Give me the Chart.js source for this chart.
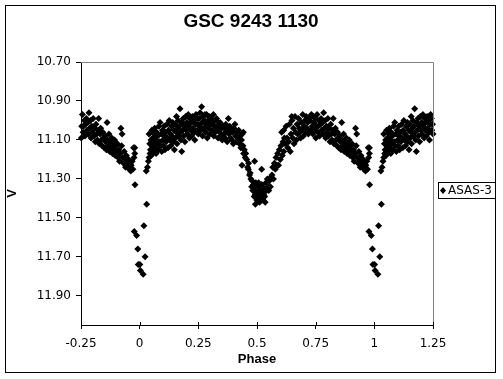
<!DOCTYPE html>
<html><head><meta charset="utf-8">
<script src="https://cdn.jsdelivr.net/npm/chart.js@4"></script>
<style>html,body{margin:0;padding:0;background:#fff}canvas{display:block}</style>
</head><body><canvas id="c" width="503" height="379"></canvas>
<script>
const chartTitle = 'GSC 9243 1130';
const seriesName = 'ASAS-3';
const xTitle = 'Phase';
const yTitle = 'V';
const xTicks = [-0.25, 0, 0.25, 0.5, 0.75, 1, 1.25];
const xTickLabels = ['-0.25', '0', '0.25', '0.5', '0.75', '1', '1.25'];
const yTicks = [10.7, 10.9, 11.1, 11.3, 11.5, 11.7, 11.9];
const yTickLabels = ['10.70', '10.90', '11.10', '11.30', '11.50', '11.70', '11.90'];

// observations: [phase, V magnitude], phase in 0..1
const eclipsePrimary = [
  [0.977,11.57],[0.987,11.59],[0.992,11.66],[0.994,11.74],[0.980,11.33],[0.979,11.17],[0.979,11.14],
  [0.001,11.74],[0.003,11.77],[0.015,11.79],[0.018,11.54],[0.023,11.70],[0.030,11.43],[0.028,11.26],
  [0.033,11.24],[0.037,11.21],[0.040,11.19],[0.044,11.17],[0.043,11.12],[0.040,11.07]
];
const riseAfterPrimary = [
  [0.046,11.15],[0.048,11.10],[0.050,11.18],[0.052,11.05],[0.054,11.13],[0.056,11.09],[0.058,11.16],
  [0.060,11.11],[0.062,11.07],[0.064,11.04],[0.066,11.14],[0.068,11.10],[0.070,11.17],[0.072,11.06],
  [0.074,11.12],[0.077,11.08],[0.080,11.15],[0.082,11.03],[0.085,11.11],[0.087,11.01],[0.089,11.13],
  [0.092,11.07],[0.094,11.16],[0.097,11.05],[0.099,11.10],
  [0.101,11.13],[0.104,11.03],[0.106,11.08],[0.108,11.15],[0.111,11.06],[0.113,11.11],[0.116,11.02],
  [0.118,11.09],[0.121,11.14],[0.123,11.05],[0.126,11.00],[0.128,11.10],[0.131,11.07],[0.133,11.13],
  [0.136,11.03],[0.138,11.08],[0.141,11.01],[0.143,11.11],[0.146,11.05],[0.148,11.15],[0.151,11.02],
  [0.153,11.09],[0.156,11.06],[0.157,10.98],[0.159,11.12]
];
const firstMaximum = [
  [0.162,11.04],[0.164,11.00],[0.167,11.08],[0.169,11.03],[0.172,10.94],[0.174,11.06],[0.176,11.10],
  [0.179,11.16],[0.181,11.01],[0.183,11.05],[0.186,10.99],[0.188,11.08],[0.191,11.03],[0.193,11.11],
  [0.196,10.98],[0.198,11.05],[0.201,11.01],[0.203,11.07],[0.207,10.97],[0.209,11.03],[0.212,11.09],
  [0.214,10.99],[0.217,11.05],[0.219,11.01],[0.222,11.08],[0.225,10.98],[0.227,11.04],[0.230,11.00],
  [0.233,11.06],[0.235,11.10],[0.238,11.02],[0.240,10.97],[0.243,10.99],[0.245,11.05],[0.248,11.02],
  [0.250,11.07],[0.253,10.99],[0.256,11.03],[0.258,10.96],[0.261,11.05],[0.264,10.93],[0.266,11.01],
  [0.268,11.08],[0.271,10.98],[0.274,11.04],[0.276,11.00],[0.278,10.97],[0.281,11.06],[0.283,11.02],
  [0.285,10.97],[0.288,11.09],[0.291,11.00],[0.293,11.04],[0.296,10.98],[0.299,11.07],[0.302,11.02],
  [0.305,10.99],[0.308,11.05],[0.311,11.01],[0.314,10.97],[0.316,11.08],[0.319,11.03],[0.322,11.06],
  [0.325,11.00],[0.328,10.99],[0.331,11.04],[0.334,11.09],[0.337,11.02],[0.340,11.06],[0.343,11.01],
  [0.346,11.08],[0.349,11.04],[0.352,11.10],[0.355,11.03],[0.358,11.07],
  [0.361,11.04],[0.364,11.09],[0.367,11.02],[0.370,11.06],[0.373,11.11],[0.376,11.04],[0.378,10.99],
  [0.381,11.07],[0.384,11.03],[0.387,11.09],[0.390,11.05],[0.393,11.10],[0.396,11.06],[0.399,11.12],
  [0.402,11.04],[0.406,11.02],[0.409,11.08],[0.412,11.11],[0.415,11.06],[0.418,11.09],[0.422,11.05],
  [0.425,11.12],[0.428,11.08],[0.431,11.14],[0.434,11.10],[0.437,11.07],[0.440,11.13],[0.442,11.06]
];
const eclipseSecondary = [
  [0.436,11.23],[0.443,11.17],[0.446,11.15],[0.450,11.19],[0.452,11.17],[0.456,11.20],[0.460,11.24],
  [0.463,11.25],[0.464,11.22],[0.468,11.28],[0.471,11.27],
  [0.474,11.30],[0.477,11.34],[0.479,11.31],[0.482,11.36],[0.484,11.33],[0.486,11.34],[0.488,11.39],
  [0.490,11.21],[0.491,11.36],[0.493,11.38],[0.493,11.43],[0.495,11.32],[0.497,11.40],[0.500,11.41],
  [0.502,11.37],[0.504,11.34],[0.507,11.32],[0.509,11.38],[0.511,11.42],[0.514,11.36],[0.516,11.40],
  [0.518,11.33],[0.520,11.25],[0.521,11.33],[0.524,11.37],[0.526,11.41],[0.528,11.38],[0.531,11.35],
  [0.533,11.39],[0.535,11.42],[0.538,11.32],[0.541,11.36],[0.544,11.30],[0.547,11.34],[0.550,11.36],
  [0.553,11.31],[0.557,11.34],[0.560,11.29],
  [0.564,11.28],[0.567,11.24],[0.570,11.30],[0.574,11.22],[0.578,11.25],[0.581,11.19],[0.585,11.23],
  [0.588,11.17],[0.592,11.23],[0.595,11.15],[0.599,11.20],[0.602,11.13],[0.605,11.06],[0.608,11.18],
  [0.611,11.11],[0.614,11.16],[0.614,11.05],[0.617,11.09],[0.620,11.12],[0.624,11.03],[0.628,11.09],
  [0.631,11.14],[0.635,11.11],[0.638,11.02],[0.642,11.16],[0.645,11.07],[0.648,10.98],[0.649,11.00]
];
const secondMaximum = [
  [0.652,11.09],[0.655,11.04],[0.658,11.12],[0.662,10.98],[0.665,11.06],[0.668,11.10],[0.671,11.02],
  [0.674,11.07],[0.677,10.99],[0.680,11.04],[0.683,11.06],[0.686,11.09],[0.689,11.01],[0.692,11.05],
  [0.695,10.97],[0.698,11.08],[0.701,11.03],[0.704,11.00],[0.707,11.06],[0.710,10.98],[0.713,11.04],
  [0.716,11.01],[0.719,11.07],[0.722,10.99],[0.726,11.00],[0.729,11.05],[0.732,10.97],[0.735,11.03],
  [0.738,11.07],[0.740,10.98],[0.743,11.01],[0.746,11.05],[0.749,10.99],
  [0.751,11.09],[0.753,11.03],[0.756,10.97],[0.759,11.06],[0.761,11.03],[0.764,11.00],[0.767,11.08],
  [0.770,11.02],[0.773,10.99],[0.776,11.05],[0.779,11.01],[0.782,11.07],[0.784,10.96],[0.787,11.04],
  [0.790,11.00],[0.793,11.09],[0.796,11.03],[0.799,11.06],[0.802,10.99],[0.805,11.08],[0.808,11.04],
  [0.811,11.11],[0.814,11.02],[0.817,11.07],[0.820,11.10],[0.823,11.05],[0.825,10.99],[0.828,11.12],
  [0.831,11.07],[0.834,11.04],[0.837,11.10],[0.840,11.13],[0.843,11.06],[0.846,11.09]
];
const fallToPrimary = [
  [0.849,11.14],[0.852,11.08],[0.855,11.11],[0.858,11.15],[0.861,11.01],[0.863,11.10],[0.866,11.13],
  [0.869,11.07],[0.872,11.16],[0.875,11.11],[0.878,11.14],[0.881,11.09],[0.884,11.17],[0.887,11.12],
  [0.890,11.15],[0.893,11.10],[0.896,11.18],[0.899,11.13],[0.902,11.16],[0.905,11.12],[0.908,11.19],
  [0.911,11.15],[0.914,11.21],[0.917,11.17],[0.920,11.04],[0.923,11.13],[0.925,11.07],[0.928,11.19],
  [0.931,11.22],[0.934,11.16],[0.937,11.20],[0.940,11.24],[0.943,11.18],[0.946,11.22],[0.950,11.24],
  [0.953,11.20],[0.956,11.25],[0.959,11.22],[0.962,11.26],[0.964,11.23],[0.968,11.21],[0.971,11.25],
  [0.974,11.14],[0.976,11.19]
];

const observations = [].concat(eclipsePrimary, riseAfterPrimary, firstMaximum, eclipseSecondary, secondMaximum, fallToPrimary);
// phase-folded plot repeats the last and first quarter of the cycle
const points = [];
observations.forEach(([p, v]) => {
  points.push({x: p, y: v});
  if (p >= 0.75) points.push({x: p - 1, y: v});
  if (p <= 0.25) points.push({x: p + 1, y: v});
});

const tickFont = {family: '"DejaVu Sans", sans-serif', size: 12};

const decor = {
  id: 'decor',
  beforeDraw(chart) {
    const ctx = chart.ctx;
    ctx.save();
    ctx.fillStyle = '#fff';
    ctx.fillRect(0, 0, chart.width, chart.height);
    ctx.restore();
  },
  afterDraw(chart) {
    const ctx = chart.ctx;
    const a = chart.chartArea;
    const xs = chart.scales.x;
    ctx.save();
    // gray top / right plot border
    ctx.strokeStyle = '#808080';
    ctx.lineWidth = 1;
    ctx.beginPath();
    ctx.moveTo(Math.round(a.left), Math.round(a.top) + 0.5);
    ctx.lineTo(Math.round(a.right) + 0.5, Math.round(a.top) + 0.5);
    ctx.lineTo(Math.round(a.right) + 0.5, Math.round(a.bottom));
    ctx.stroke();
    // inner half of crossing x tick marks
    ctx.strokeStyle = '#000';
    ctx.beginPath();
    xTicks.forEach(v => {
      const px = Math.round(xs.getPixelForValue(v)) + 0.5;
      ctx.moveTo(px, a.bottom - 3);
      ctx.lineTo(px, a.bottom);
    });
    ctx.stroke();
    // outer frame
    ctx.strokeStyle = '#000';
    ctx.strokeRect(5.5, 5.5, 490, 367);
    // title
    ctx.fillStyle = '#000';
    ctx.font = 'bold 19px "Liberation Sans", Arial, sans-serif';
    ctx.textAlign = 'center';
    ctx.textBaseline = 'middle';
    ctx.fillText(chartTitle, 251, 22);
    // legend
    ctx.fillStyle = '#fff';
    ctx.fillRect(438.5, 182.5, 57, 16);
    ctx.strokeStyle = '#000';
    ctx.strokeRect(438.5, 182.5, 57, 16);
    ctx.fillStyle = '#000';
    ctx.beginPath();
    ctx.moveTo(443, 187); ctx.lineTo(446, 190.5); ctx.lineTo(443, 194); ctx.lineTo(440, 190.5);
    ctx.closePath(); ctx.fill();
    ctx.font = '12px "DejaVu Sans", sans-serif';
    ctx.textAlign = 'left';
    ctx.fillText(seriesName, 448, 191);
    ctx.restore();
  }
};

new Chart(document.getElementById('c'), {
  type: 'scatter',
  data: {
    datasets: [{
      label: seriesName,
      data: points,
      pointStyle: 'rectRot',
      pointRadius: 3.5,
      pointHoverRadius: 3.5,
      backgroundColor: '#000',
      borderColor: '#000',
      borderWidth: 0,
      clip: false
    }]
  },
  options: {
    responsive: false,
    animation: false,
    devicePixelRatio: 1,
    layout: {padding: {left: 0, right: 70, top: 62, bottom: 0}},
    plugins: {legend: {display: false}, title: {display: false}, tooltip: {enabled: false}},
    scales: {
      x: {
        type: 'linear', min: -0.25, max: 1.25,
        afterBuildTicks: s => { s.ticks = xTicks.map(v => ({value: v})); },
        afterFit: s => { s.height = 54; },
        ticks: {
          callback: v => xTickLabels[xTicks.indexOf(v)],
          color: '#000', font: tickFont, padding: 8, maxRotation: 0, autoSkip: false
        },
        grid: {drawOnChartArea: false, drawTicks: true, tickLength: 4, tickColor: '#000', tickWidth: 1},
        border: {display: true, color: '#000', width: 1},
        title: {display: true, text: xTitle, color: '#000',
          font: {family: '"Liberation Sans", Arial, sans-serif', weight: 'bold', size: 13},
          padding: {top: 0, bottom: 12}}
      },
      y: {
        type: 'linear', reverse: true, min: 10.7, max: 12.05,
        afterBuildTicks: s => { s.ticks = yTicks.map(v => ({value: v})); },
        afterFit: s => { s.width = 81; },
        ticks: {
          callback: v => yTickLabels[yTicks.indexOf(v)],
          color: '#000', font: tickFont, padding: 5, autoSkip: false
        },
        grid: {drawOnChartArea: false, drawTicks: true, tickLength: 5, tickColor: '#000', tickWidth: 1},
        border: {display: true, color: '#000', width: 1},
        title: {display: true, text: yTitle, color: '#000',
          font: {family: '"Liberation Sans", Arial, sans-serif', weight: 'bold', size: 13},
          padding: {top: 5, bottom: 0}}
      }
    }
  },
  plugins: [decor]
});
</script>
</body></html>
